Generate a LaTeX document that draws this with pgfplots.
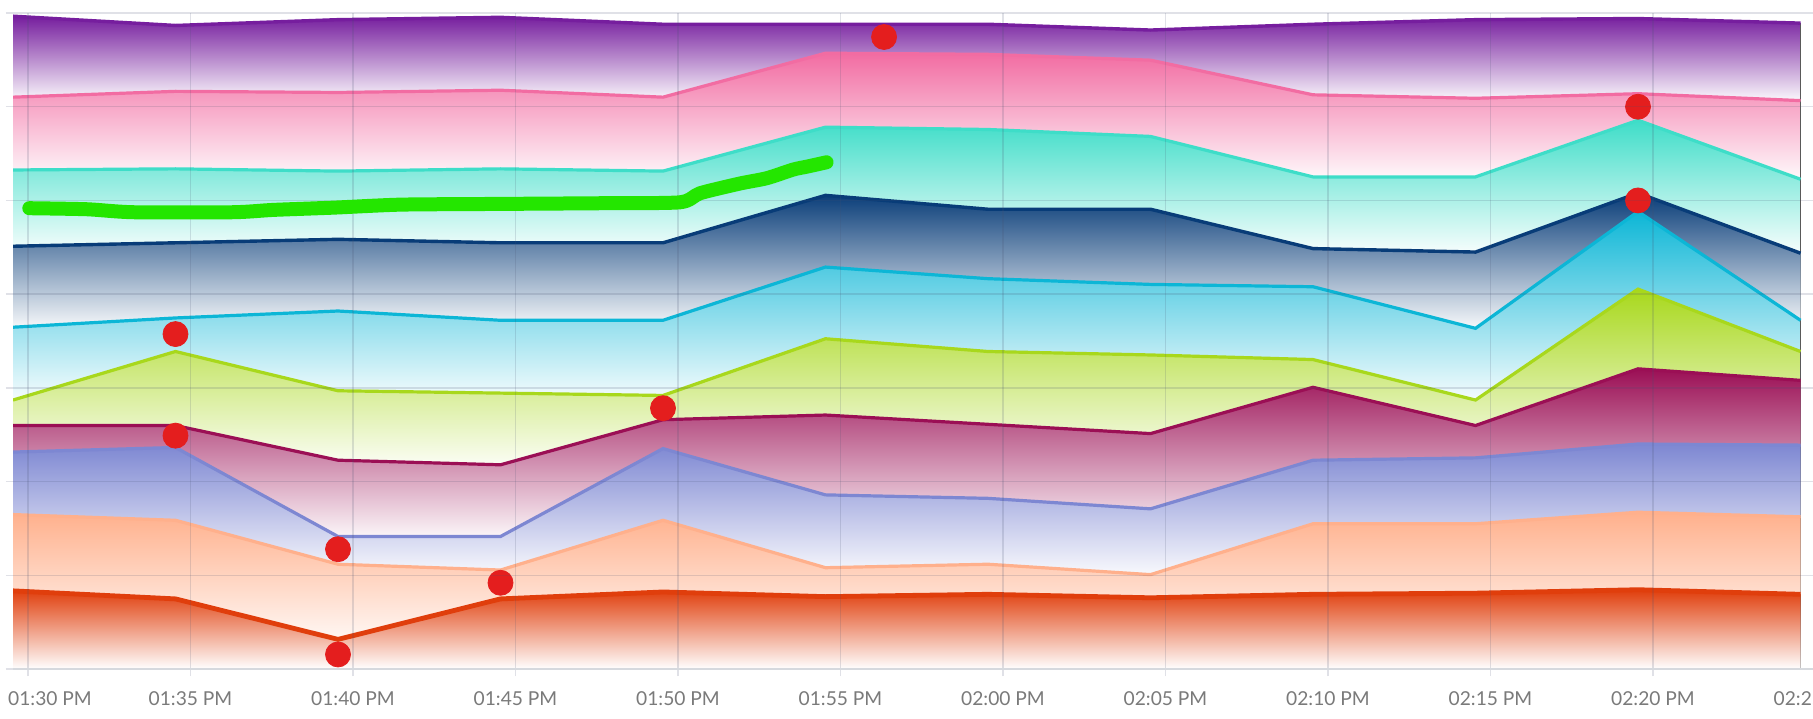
\documentclass[border=0pt]{standalone}
\usepackage{pgfplots}
\pgfplotsset{compat=1.18}
\usepackage{pgfplotstable}
\usepgfplotslibrary{fillbetween}
\usepackage{fontspec}
\setmainfont{Lato}

\definecolor{cPurple}{RGB}{118,30,158}
\definecolor{cPink}{RGB}{242,108,162}
\definecolor{cTeal}{RGB}{62,221,200}
\definecolor{cNavy}{RGB}{8,60,120}
\definecolor{cCyan}{RGB}{12,182,214}
\definecolor{cLime}{RGB}{168,216,28}
\definecolor{cMaroon}{RGB}{155,15,85}
\definecolor{cPeri}{RGB}{125,135,210}
\definecolor{cPeach}{RGB}{255,176,140}
\definecolor{cOrange}{RGB}{224,62,12}
\definecolor{cGreen}{RGB}{36,230,0}
\definecolor{cDot}{RGB}{228,30,30}
\definecolor{gridc}{RGB}{70,80,110}
\definecolor{axisc}{RGB}{214,217,222}
\definecolor{labelc}{RGB}{122,122,122}

\pgfplotstableread{
t        purple pink  teal  navy  cyan  lime  maroon peri  peach orange
-0.4615  6.966  6.102 5.325 4.511 3.647 2.870 2.598  2.315 1.648 0.834
4.5385   6.867  6.164 5.337 4.548 3.746 3.388 2.598  2.364 1.587 0.748
9.5385   6.929  6.152 5.313 4.585 3.820 2.969 2.228  1.414 1.118 0.316
14.5385  6.954  6.176 5.337 4.548 3.721 2.944 2.179  1.414 1.056 0.748
19.5385  6.880  6.102 5.313 4.548 3.721 2.919 2.660  2.352 1.587 0.822
24.5385  6.880  6.571 5.782 5.054 4.289 3.524 2.710  1.858 1.081 0.772
29.5385  6.880  6.559 5.757 4.906 4.165 3.388 2.611  1.821 1.118 0.797
34.5385  6.818  6.497 5.683 4.906 4.104 3.351 2.512  1.709 1.007 0.760
39.5385  6.880  6.127 5.251 4.486 4.079 3.302 3.006  2.228 1.550 0.797
44.5385  6.929  6.090 5.251 4.449 3.635 2.870 2.598  2.253 1.550 0.809
49.5385  6.941  6.139 5.856 5.079 4.881 4.054 3.203  2.401 1.673 0.846
54.5385  6.892  6.065 5.226 4.437 3.721 3.388 3.080  2.389 1.624 0.797
}\data

\pgfplotstableread{
t      v
0.04   4.917
1.81   4.906
3.24   4.874
6.31   4.874
7.55   4.899
9.40   4.923
11.45  4.955
14.10  4.962
17.60  4.970
20.06  4.980
20.68  5.077
21.90  5.180
22.73  5.237
23.55  5.330
23.96  5.360
24.57  5.407
}\green

\begin{document}
\begin{tikzpicture}
\begin{axis}[
  at={(0,0)}, anchor=south west, scale only axis,
  width=910pt, height=328pt,
  xmin=-0.4615, xmax=55.5385, ymin=0, ymax=7,
  set layers=axis on top,
  xtick={0,5,...,55},
  xticklabels={\hspace*{22pt}01:30 PM,01:35 PM,01:40 PM,01:45 PM,01:50 PM,01:55 PM,02:00 PM,02:05 PM,02:10 PM,02:15 PM,02:20 PM,02:25 PM},
  ytick={0,1,...,7}, yticklabels={},
  grid=major,
  major grid style={draw=gridc, draw opacity=0.17, line width=0.75pt},
  tick style={draw=gridc, draw opacity=0.17, line width=0.75pt},
  tick align=outside, major tick length=3.5pt,
  axis lines*=left,
  x axis line style={draw=axisc, line width=1pt},
  y axis line style={draw=none},
  xticklabel style={font=\fontsize{9.6}{11}\selectfont, text=labelc, anchor=base, yshift=-14.5pt},
  clip=true,
]
% invisible base line
\addplot[draw=none, name path=base] table[x=t, y expr=0] {\data};

% lines (main layer)
\addplot[cPurple, line width=1.7pt, name path=purple] table[x=t, y=purple] {\data};
\addplot[cPink, line width=1.6pt, name path=pink] table[x=t, y=pink] {\data};
\addplot[cTeal, line width=1.6pt, name path=teal] table[x=t, y=teal] {\data};
\addplot[cNavy, line width=1.7pt, name path=navy] table[x=t, y=navy] {\data};
\addplot[cCyan, line width=1.6pt, name path=cyan] table[x=t, y=cyan] {\data};
\addplot[cLime, line width=1.6pt, name path=lime] table[x=t, y=lime] {\data};
\addplot[cMaroon, line width=1.6pt, name path=maroon] table[x=t, y=maroon] {\data};
\addplot[cPeri, line width=1.6pt, name path=peri] table[x=t, y=peri] {\data};
\addplot[cPeach, line width=1.6pt, name path=peach] table[x=t, y=peach] {\data};
\addplot[cOrange, line width=2.4pt, name path=orange] table[x=t, y=orange] {\data};

% gradient bands (pre main layer)
\addplot[top color=cPurple, bottom color=cPurple!3!white] fill between[of=purple and pink];
\addplot[top color=cPink, bottom color=cPink!4!white] fill between[of=pink and teal];
\addplot[top color=cTeal, bottom color=cTeal!4!white] fill between[of=teal and navy];
\addplot[top color=cNavy, bottom color=cNavy!3!white] fill between[of=navy and cyan];
\addplot[top color=cCyan, bottom color=cCyan!4!white] fill between[of=cyan and lime];
\addplot[top color=cLime, bottom color=cLime!5!white] fill between[of=lime and maroon];
\addplot[top color=cMaroon, bottom color=cMaroon!4!white] fill between[of=maroon and peri];
\addplot[top color=cPeri, bottom color=cPeri!5!white] fill between[of=peri and peach];
\addplot[top color=cPeach, bottom color=cPeach!10!white] fill between[of=peach and orange];
\addplot[top color=cOrange, bottom color=white] fill between[of=orange and base];

% green trace
\addplot[on layer=axis foreground, cGreen, line width=7pt, line cap=round, line join=round, smooth, tension=0.4] table[x=t, y=v] {\green};

% red dots
\addplot[on layer=axis foreground, only marks, mark=*, mark size=6.25pt, color=cDot, mark options={draw=none, fill=cDot}] coordinates {
(4.5385,3.574) (4.5385,2.490) (9.5385,1.278) (9.5385,0.155) (14.5385,0.920)
(19.5385,2.783) (26.34,6.744) (49.5385,6.000) (49.5385,5.000)
};
\end{axis}
\pgfresetboundingbox
\useasboundingbox (-6.5pt,-24.5pt) rectangle (900pt,334.5pt);
\end{tikzpicture}
\end{document}
